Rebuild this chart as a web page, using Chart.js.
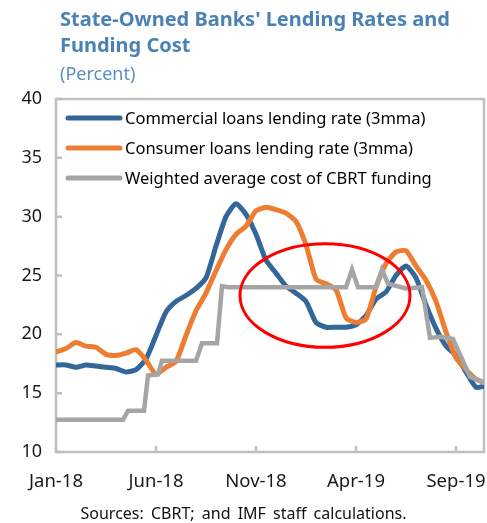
<!DOCTYPE html>
<html lang="en">
<head>
<meta charset="UTF-8">
<title>State-Owned Banks' Lending Rates and Funding Cost</title>
<script src="https://cdn.jsdelivr.net/npm/chart.js@4.4.1/dist/chart.umd.min.js"></script>
<style>
    body { margin: 0; background: #fff; font-family: 'Noto Sans', 'Open Sans', sans-serif; }
    #wrap { position: relative; width: 487px; height: 523px; }
    #title { position: absolute; left: 60px; top: 6px; color: #4a82b6; font-weight: bold; font-size: 20px; line-height: 26px; }
    #unit { position: absolute; left: 60px; top: 61px; color: #5b8fc4; font-size: 18px; line-height: 24px; }
    #source { position: absolute; left: 0; width: 487px; top: 502px; text-align: center; font-size: 16px; word-spacing: 3px; color: #111; }
    canvas { position: absolute; left: 0; top: 0; }
</style>
</head>
<body>
<div id="wrap">
    <canvas id="rates" width="487" height="523"></canvas>
    <div id="title">State-Owned Banks' Lending Rates and<br>Funding Cost</div>
    <div id="unit">(Percent)</div>
    <div id="source">Sources: CBRT; and IMF staff calculations.</div>
</div>
<script>
    // months since Jan-2018, half-month steps
    var months = [0, 0.5, 1, 1.5, 2, 2.5, 3, 3.5, 4, 4.5, 5, 5.5, 6, 6.5, 7, 7.5, 8, 8.5, 9, 9.5,
        10, 10.5, 11, 11.5, 12, 12.5, 13, 13.5, 14, 14.5, 15, 15.5, 16, 16.5, 17, 17.5, 18, 18.5,
        19, 19.5, 20, 20.5, 21, 21.4];
    var commercial = [17.4, 17.4, 17.2, 17.4, 17.3, 17.2, 17.1, 16.8, 17.0, 17.9, 19.9, 21.9, 22.8, 23.3,
        23.9, 24.8, 27.5, 30.0, 31.1, 30.2, 28.5, 26.3, 25.2, 24.1, 23.5, 22.8, 21.0, 20.6, 20.6, 20.6,
        20.8, 21.6, 23.0, 23.6, 25.0, 25.8, 24.8, 22.5, 20.5, 19.0, 18.2, 16.8, 15.5, 15.6];
    var consumer = [18.5, 18.8, 19.3, 19.0, 18.9, 18.3, 18.2, 18.4, 18.7, 17.8, 16.6, 17.2, 17.7, 19.9,
        22.0, 23.5, 25.4, 27.2, 28.5, 29.2, 30.5, 30.8, 30.6, 30.3, 29.6, 27.6, 24.7, 24.3, 23.8, 21.4,
        21.0, 21.3, 24.0, 26.0, 27.0, 27.1, 25.8, 24.6, 22.8, 20.2, 18.0, 17.0, 16.2, 15.9];

    // CBRT funding cost moves in steps, so it keeps its own dates
    var fundingMonths = [0, 3.35, 3.6, 4.4, 4.6, 5.1, 5.3, 7.0, 7.3, 8.05, 8.3, 8.6, 14.5, 14.8, 15.1,
        16.0, 16.3, 16.6, 17.5, 18.3, 18.7, 19.2, 19.85, 20.7, 21.4];
    var funding = [12.75, 12.75, 13.5, 13.5, 16.5, 16.6, 17.75, 17.75, 19.25, 19.25, 24.1, 24.0, 24.0, 25.5, 24.0,
        24.0, 25.5, 24.3, 23.9, 24.0, 19.7, 19.8, 19.6, 16.4, 15.9];

    var tickMonths = [0, 5, 10, 15, 20];
    var tickLabels = ['Jan-18', 'Jun-18', 'Nov-18', 'Apr-19', 'Sep-19'];

    // red ring drawn over the Nov-18 .. Jun-19 stretch (centre and half-axes in data units)
    var ring = { month: 13.45, value: 23.3, halfMonths: 4.25, halfValue: 4.4 };

    function pairs(xs, ys) {
        return ys.map(function (y, i) { return { x: xs[i], y: y }; });
    }

    var frameGray = '#bfbfbf';

    var framePlugin = {
        id: 'frame',
        beforeDatasetsDraw: function (chart) {
            var a = chart.chartArea, ctx = chart.ctx;
            var xs = chart.scales.x, ys = chart.scales.y;
            ctx.save();
            ctx.strokeStyle = frameGray;
            ctx.lineWidth = 2.5;
            ctx.strokeRect(a.left, a.top, a.right - a.left, a.bottom - a.top);
            ctx.beginPath();
            ys.ticks.forEach(function (t) {
                var py = ys.getPixelForValue(t.value);
                ctx.moveTo(a.left, py);
                ctx.lineTo(a.left + 6, py);
            });
            xs.ticks.forEach(function (t) {
                var px = xs.getPixelForValue(t.value);
                ctx.moveTo(px, a.bottom);
                ctx.lineTo(px, a.bottom - 6);
            });
            ctx.stroke();
            ctx.restore();
        },
        afterDatasetsDraw: function (chart) {
            var ctx = chart.ctx, a = chart.chartArea;
            var xs = chart.scales.x, ys = chart.scales.y;
            var cx = xs.getPixelForValue(ring.month);
            var cy = ys.getPixelForValue(ring.value);
            var rx = xs.getPixelForValue(ring.month + ring.halfMonths) - cx;
            var ry = cy - ys.getPixelForValue(ring.value + ring.halfValue);
            ctx.save();
            ctx.strokeStyle = '#ff0000';
            ctx.lineWidth = 3;
            ctx.beginPath();
            ctx.ellipse(cx, cy, rx, ry, 0, 0, Math.PI * 2);
            ctx.stroke();

            // legend inside the plot, top-left
            ctx.font = "16.5px 'Noto Sans', 'Open Sans', sans-serif";
            ctx.textBaseline = 'middle';
            ctx.lineCap = 'round';
            chart.data.datasets.forEach(function (ds, i) {
                var ly = a.top + 19 + i * 30;
                ctx.strokeStyle = ds.borderColor;
                ctx.lineWidth = 5;
                ctx.beginPath();
                ctx.moveTo(a.left + 12, ly);
                ctx.lineTo(a.left + 64, ly);
                ctx.stroke();
                ctx.fillStyle = '#000';
                ctx.fillText(ds.label, a.left + 69, ly + 1);
            });
            ctx.restore();
        }
    };

    Chart.defaults.font.family = "'Noto Sans', 'Open Sans', sans-serif";
    Chart.defaults.color = '#1a1a1a';

    var ctx = document.getElementById('rates').getContext('2d');
    window.ratesChart = new Chart(ctx, {
        type: 'line',
        data: {
            datasets: [{
                label: 'Commercial loans lending rate (3mma)',
                data: pairs(months, commercial),
                borderColor: '#336699',
                borderWidth: 5,
                borderCapStyle: 'round',
                tension: 0.2,
                order: 3
            }, {
                label: 'Consumer loans lending rate (3mma)',
                data: pairs(months, consumer),
                borderColor: '#ed7d31',
                borderWidth: 5,
                borderCapStyle: 'round',
                tension: 0.2,
                order: 2
            }, {
                label: 'Weighted average cost of CBRT funding',
                data: pairs(fundingMonths, funding),
                borderColor: '#a5a5a5',
                borderWidth: 4.5,
                borderCapStyle: 'round',
                tension: 0,
                order: 1
            }]
        },
        options: {
            responsive: false,
            devicePixelRatio: 1,
            animation: false,
            elements: { point: { radius: 0 } },
            layout: { padding: { top: 99, right: 3, left: 0, bottom: 31 } },
            plugins: {
                tooltip: { enabled: false },
                legend: { display: false }
            },
            scales: {
                x: {
                    type: 'linear',
                    min: 0,
                    max: 21.4,
                    afterBuildTicks: function (scale) {
                        scale.ticks = tickMonths.map(function (v) { return { value: v }; });
                    },
                    afterFit: function (scale) {
                        scale.height = 40;
                        scale.paddingLeft = 0;
                        scale.paddingRight = 0;
                    },
                    grid: { display: false, drawTicks: false },
                    border: { display: false },
                    ticks: {
                        padding: 19,
                        maxRotation: 0,
                        font: { size: 18.5 },
                        callback: function (v) { return tickLabels[tickMonths.indexOf(v)]; }
                    }
                },
                y: {
                    min: 10,
                    max: 40,
                    afterFit: function (scale) { scale.width = 56; },
                    grid: { display: false, drawTicks: false },
                    border: { display: false },
                    ticks: { stepSize: 5, padding: 14, font: { size: 18 } }
                }
            }
        },
        plugins: [framePlugin]
    });
</script>
</body>
</html>
